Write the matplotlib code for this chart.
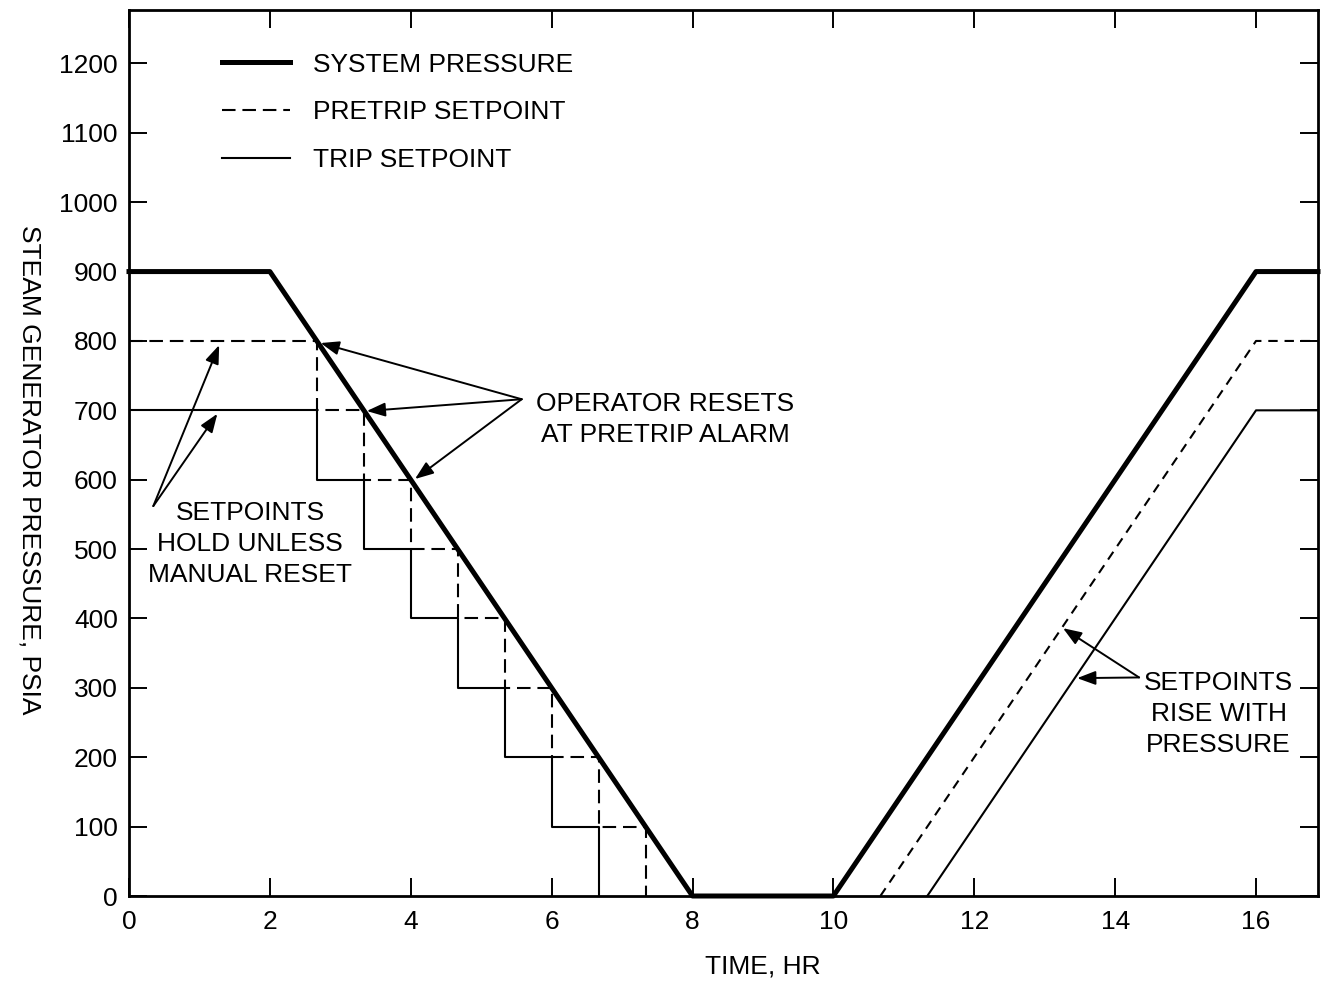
"""Steam generator pressure vs. time with pretrip / trip setpoints."""

import matplotlib

matplotlib.use("Agg")
from matplotlib import pyplot as plt

plt.rcParams["font.family"] = ["Liberation Sans", "DejaVu Sans"]
plt.rcParams["font.size"] = 19

# system pressure, psia
time_sys = [0, 2, 8, 10, 16, 16.88]
p_sys = [900, 900, 0, 0, 900, 900]

# operator resets at pretrip alarm (hr), setpoint levels after each reset
t_reset = [0, 2.667, 3.333, 4.0, 4.667, 5.333, 6.0, 6.667, 7.333]
pretrip_drop = [800, 700, 600, 500, 400, 300, 200, 100, 0]
trip_drop = [700, 600, 500, 400, 300, 200, 100, 0]

# setpoints rising with pressure
time_pretrip_rise = [10.667, 16, 16.88]
pretrip_rise = [0, 800, 800]
time_trip_rise = [11.333, 16, 16.88]
trip_rise = [0, 700, 700]

x_ticks = [0, 2, 4, 6, 8, 10, 12, 14, 16]
y_ticks = [0, 100, 200, 300, 400, 500, 600, 700, 800, 900, 1000, 1100, 1200]

fig = plt.figure(figsize=(13.22, 9.89), dpi=100)
ax = fig.add_axes([129 / 1322, 93 / 989, 1189 / 1322, 886 / 989])

dash = (6.5, 3.3)
ax.plot(time_sys, p_sys, color="black", lw=3.6, clip_on=False, label="SYSTEM PRESSURE", zorder=3)
ax.step(t_reset, pretrip_drop, where="post", color="black", lw=1.5, dashes=dash,
        label="PRETRIP SETPOINT")
ax.step(t_reset[:8], trip_drop, where="post", color="black", lw=1.5, label="TRIP SETPOINT")
ax.plot(time_pretrip_rise, pretrip_rise, color="black", lw=1.5, dashes=(4.5, 3.3))
ax.plot(time_trip_rise, trip_rise, color="black", lw=1.5)

ax.set_xlim(0, 16.88)
ax.set_ylim(0, 1277)
ax.set_xticks(x_ticks)
ax.set_yticks(y_ticks)
ax.tick_params(direction="in", length=13, width=1.4, top=True, right=True, color="black")
ax.tick_params(axis="y", pad=8)
ax.tick_params(axis="x", pad=10)
for sp in ax.spines.values():
    sp.set_linewidth(2.0)

ax.set_xlabel("TIME, HR", va="center")
ax.xaxis.set_label_coords(0.533, -0.080)
ax.set_ylabel("STEAM GENERATOR PRESSURE, PSIA", rotation=-90, va="center", ha="center")
ax.yaxis.set_label_coords(-0.0833, 0.481)

ax.legend(loc="upper left", bbox_to_anchor=(0.078, 0.952), frameon=False, borderpad=0,
          borderaxespad=0, handlelength=2.58, handletextpad=0.87, labelspacing=0.9)

arrow = dict(arrowstyle="-|>,head_length=0.8,head_width=0.3", mutation_scale=14,
             color="black", lw=1.4, shrinkA=0, shrinkB=0)

# operator resets
for hx, hy in [(2.72, 797), (3.375, 699), (4.06, 601)]:
    ax.annotate("", xy=(hx, hy), xytext=(5.575, 716), arrowprops=arrow)
ax.text(7.61, 687, "OPERATOR RESETS\nAT PRETRIP ALARM", ha="center", va="center",
        linespacing=1.37)

# setpoints hold
for hx, hy in [(1.28, 794), (1.254, 695)]:
    ax.annotate("", xy=(hx, hy), xytext=(0.345, 562), arrowprops=arrow)
ax.text(1.72, 507, "SETPOINTS\nHOLD UNLESS\nMANUAL RESET", ha="center", va="center",
        linespacing=1.37)

# setpoints rise
for hx, hy in [(13.26, 386), (13.46, 314)]:
    ax.annotate("", xy=(hx, hy), xytext=(14.34, 315), arrowprops=arrow)
ax.text(15.47, 262, "SETPOINTS\nRISE WITH\nPRESSURE", ha="center", va="center",
        linespacing=1.37)

fig.savefig("out.png", dpi=100)
plt.close(fig)
